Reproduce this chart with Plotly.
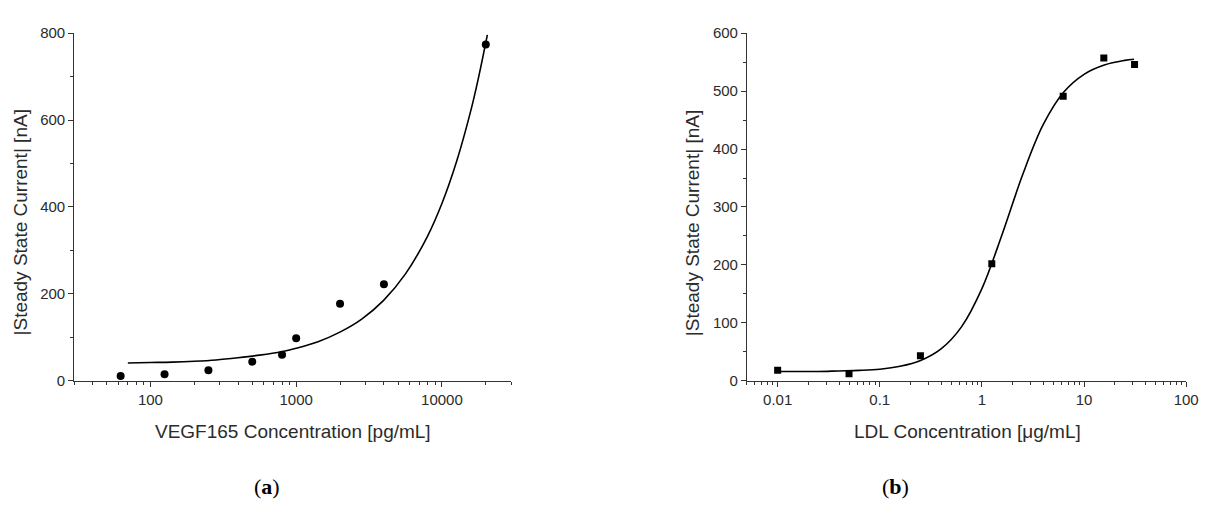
import plotly.graph_objects as go

W, H = 1213, 514

# ---- Panel (a): VEGF165 ----
vegf_conc = [62.5, 125, 250, 500, 800, 1000, 2000, 4000, 20000]
vegf_current = [11, 15, 24, 44, 60, 98, 177, 222, 774]
vegf_fit_x = [70, 100, 141, 200, 282, 398, 562, 794, 1000, 1413, 1995, 2818, 3981,
              5623, 7943, 10000, 12589, 15849, 17783, 20500]
vegf_fit_y = [41, 42, 43, 45, 48, 53, 59, 67, 75, 90, 112, 142, 185,
              246, 332, 408, 504, 624, 696, 796]
vegf_ticks = [100, 1000, 10000]

# ---- Panel (b): LDL ----
ldl_conc = [0.01, 0.05, 0.25, 1.25, 6.25, 15.625, 31.25]
ldl_current = [18, 12, 43, 202, 491, 557, 546]
ldl_fit_x = [0.01, 0.0158, 0.0251, 0.0398, 0.0631, 0.1, 0.158, 0.251, 0.398, 0.631,
             1.0, 1.58, 2.51, 3.98, 6.31, 10.0, 15.8, 25.1, 30.9]
ldl_fit_y = [16, 16, 16, 17, 18, 20, 25, 35, 55, 93,
             159, 253, 356, 442, 498, 529, 545, 553, 555]
ldl_ticks = [0.01, 0.1, 1, 10, 100]

AX = '#333333'
TXT = '#2b2b2b'
FONT = 'Liberation Sans, Arial, sans-serif'

def px(x):
    return x / W

def py(y):
    return 1 - y / H

fig = go.Figure()

fig.add_trace(go.Scatter(x=vegf_fit_x, y=vegf_fit_y, mode='lines',
                         line=dict(color='black', width=1.6, shape='spline', smoothing=1.0),
                         xaxis='x', yaxis='y', showlegend=False, hoverinfo='skip'))
fig.add_trace(go.Scatter(x=vegf_conc, y=vegf_current, mode='markers',
                         marker=dict(symbol='circle', size=8, color='black'),
                         xaxis='x', yaxis='y', showlegend=False))
fig.add_trace(go.Scatter(x=ldl_fit_x, y=ldl_fit_y, mode='lines',
                         line=dict(color='black', width=1.6, shape='spline', smoothing=1.0),
                         xaxis='x2', yaxis='y2', showlegend=False, hoverinfo='skip'))
fig.add_trace(go.Scatter(x=ldl_conc, y=ldl_current, mode='markers',
                         marker=dict(symbol='square', size=7, color='black'),
                         xaxis='x2', yaxis='y2', showlegend=False))

y_dom = [py(384.5), py(25)]

common_axis = dict(showline=True, linecolor=AX, linewidth=1, ticks='outside', ticklen=5,
                   tickcolor=AX, tickwidth=1, showgrid=False, zeroline=False,
                   tickfont=dict(family=FONT, size=15, color=TXT))

fig.update_layout(
    width=W, height=H,
    margin=dict(l=0, r=0, t=0, b=0),
    paper_bgcolor='white', plot_bgcolor='white',
    xaxis=dict(type='log', domain=[px(75), px(517)], range=[1.4771, 4.4771],
               tickmode='array', tickvals=vegf_ticks, ticktext=[str(v) for v in vegf_ticks],
               minor=dict(ticks='outside', ticklen=3, tickcolor=AX, dtick='D1', showgrid=False),
               anchor='y', **common_axis),
    yaxis=dict(domain=y_dom, range=[0, 800], dtick=200, tick0=0,
               minor=dict(ticks='outside', ticklen=3, tickcolor=AX, dtick=100, showgrid=False),
               anchor='x', **common_axis),
    xaxis2=dict(type='log', domain=[px(755), px(1199)], range=[-2.30103, 2],
                tickmode='array', tickvals=ldl_ticks, ticktext=['0.01', '0.1', '1', '10', '100'],
                minor=dict(ticks='outside', ticklen=3, tickcolor=AX, dtick='D1', showgrid=False),
                anchor='y2', **common_axis),
    yaxis2=dict(domain=y_dom, range=[0, 600], dtick=100, tick0=0,
                minor=dict(ticks='outside', ticklen=3, tickcolor=AX, dtick=50, showgrid=False),
                anchor='x2', **common_axis),
)

ann_font = dict(family=FONT, size=19, color=TXT)
annotations = [
    dict(text='VEGF165 Concentration [pg/mL]', x=px(296), y=py(437), xref='paper', yref='paper',
         showarrow=False, font=ann_font, xanchor='center', yanchor='middle'),
    dict(text='|Steady State Current| [nA]', x=px(21), y=py(221), xref='paper', yref='paper',
         showarrow=False, font=ann_font, textangle=-90, xanchor='center', yanchor='middle'),
    dict(text='LDL Concentration [μg/mL]', x=px(978), y=py(437), xref='paper', yref='paper',
         showarrow=False, font=ann_font, xanchor='center', yanchor='middle'),
    dict(text='|Steady State Current| [nA]', x=px(700), y=py(221), xref='paper', yref='paper',
         showarrow=False, font=ann_font, textangle=-90, xanchor='center', yanchor='middle'),
    dict(text='(<b>a</b>)', x=px(270), y=py(494), xref='paper', yref='paper',
         showarrow=False, font=dict(family='Liberation Serif, DejaVu Serif, serif', size=22, color='black'),
         xanchor='center', yanchor='middle'),
    dict(text='(<b>b</b>)', x=px(905), y=py(494), xref='paper', yref='paper',
         showarrow=False, font=dict(family='Liberation Serif, DejaVu Serif, serif', size=22, color='black'),
         xanchor='center', yanchor='middle'),
]
fig.update_layout(annotations=annotations)

fig.write_html('out.html', config={'displayModeBar': False},
               post_script="document.body.style.margin='0';document.body.style.overflow='hidden';")
